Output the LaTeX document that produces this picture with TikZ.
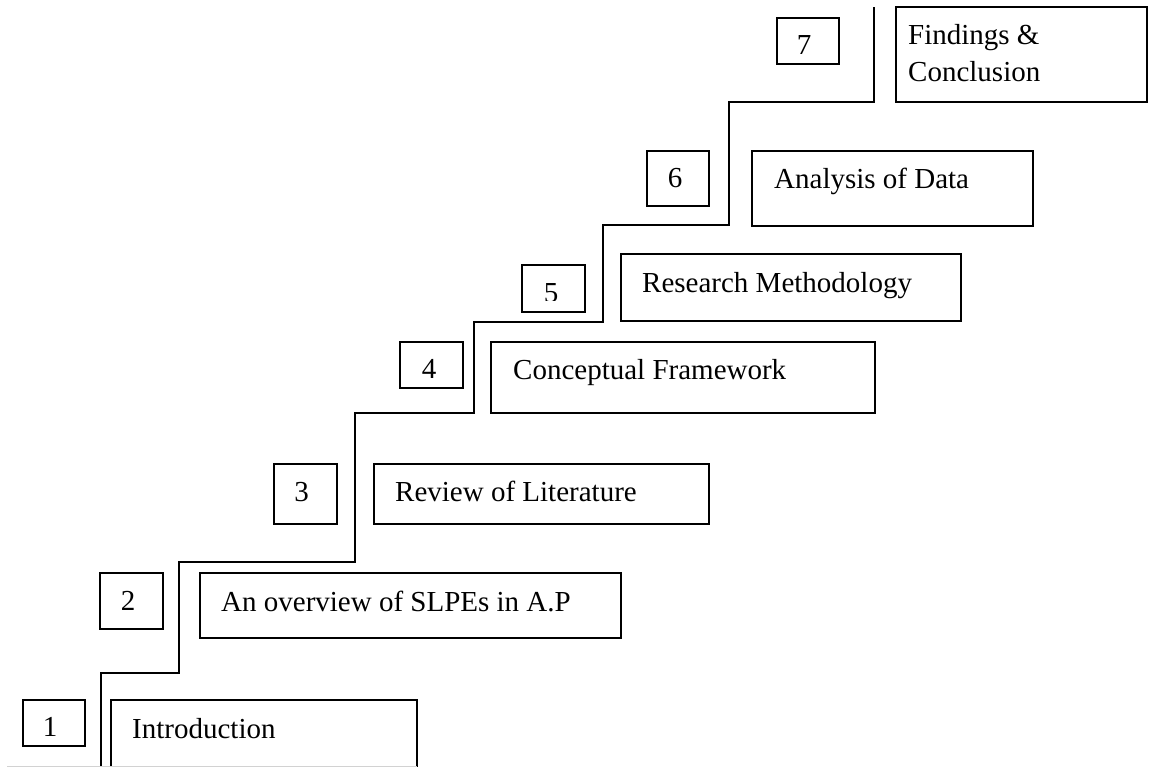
\documentclass[tikz,border=0pt]{standalone}
\usepackage{fontspec}
\setmainfont{Liberation Serif}
\begin{document}
\begin{tikzpicture}[x=1pt,y=-1pt,
  box/.style={draw=black,line width=1.2pt,inner sep=0pt},
  lbl/.style={inner sep=0pt,anchor=base west,font=\fontsize{29}{37}\selectfont},
  num/.style={inner sep=0pt,anchor=base,font=\fontsize{29}{37}\selectfont},
  stair/.style={draw=black,line width=1.2pt,line join=miter}]
\useasboundingbox (0,0) rectangle (1153,767);
% boxes
\newcommand{\mybox}[5]{\path[box] (#2,#3) rectangle (#4,#5) coordinate (#1);}
\path[box] (23,700) rectangle (85,746);
\path[box] (111,700) rectangle (417,790);
\path[box] (100,573) rectangle (163,629);
\path[box] (200,573) rectangle (621,638);
\path[box] (274,464) rectangle (337,524);
\path[box] (374,464) rectangle (709,524);
\path[box] (400,342) rectangle (463,388);
\path[box] (491,342) rectangle (875,413);
\path[box] (522,265) rectangle (585,312);
\path[box] (621,254) rectangle (961,321);
\path[box] (647,151) rectangle (709,206);
\path[box] (752,151) rectangle (1033,226);
\path[box] (777,18) rectangle (839,64);
\path[box] (896,7) rectangle (1147,102);
% numbers
\node[num] (n1) at (50,736) {1};
\node[num] (n2) at (128,610) {2};
\node[num] (n3) at (301.5,501) {3};
\node[num] (n4) at (429,378) {4};
\begin{scope}
\clip (522,265) rectangle (585,300);
\node[num] (n5) at (551,302) {5};
\end{scope}
\node[num] (n6) at (675,188) {6};
\node[num] (n7) at (804,55) {7};
% labels
\node[lbl] (t1) at (132,738) {Introduction};
\node[lbl] (t2) at (221,611) {An overview of SLPEs in A.P};
\node[lbl] (t3) at (395,501) {Review of Literature};
\node[lbl] (t4) at (513,379) {Conceptual Framework};
\node[lbl] (t5) at (642,292) {Research Methodology};
\node[lbl] (t6) at (774,189) {Analysis of Data};
\node[lbl] (t7a) at (908,45) {Findings \&};
\node[lbl] (t7b) at (908,82) {Conclusion};
% staircase
\draw[stair] (101,790) -- (101,673) -- (179,673) -- (179,562) -- (355,562)
  -- (355,413) -- (474,413) -- (474,322) -- (603,322) -- (603,225)
  -- (729,225) -- (729,102) -- (874,102) -- (874,7);
% faint page edge
\draw[gray!35,line width=1pt] (7,766) -- (417,766);
\end{tikzpicture}
\end{document}
